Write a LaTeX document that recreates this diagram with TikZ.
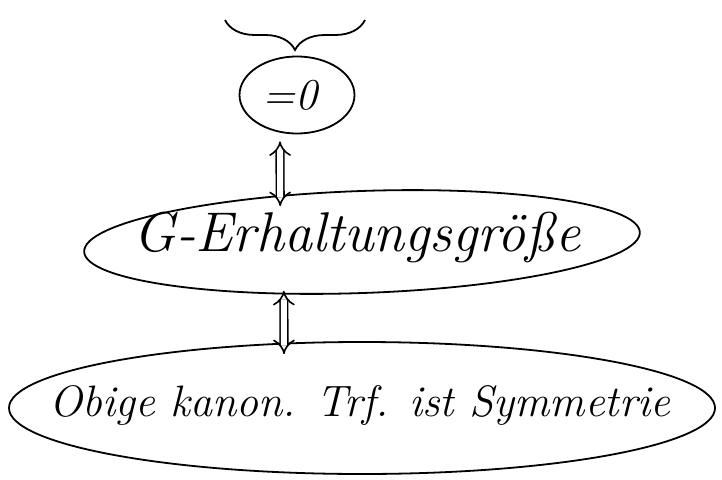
\documentclass[tikz,border=0pt]{standalone}
\usepackage{amsmath}
\usepackage{tikz}
\usetikzlibrary{decorations.pathreplacing}
\usetikzlibrary{arrows,arrows.meta,calc,shapes.geometric,shapes.misc}

\begin{document}
\begin{tikzpicture}[x=1pt,y=-1pt,line width=1.8pt,
    blob/.style={draw, ellipse, inner sep=0pt},
    hand/.style={font=\fontsize{44}{50}\selectfont\itshape},
    equiv/.style={double, double distance=6pt, line width=1.6pt, {Implies[scale=1.6]}-{Implies[scale=1.6]}}]
    \useasboundingbox (0,0) rectangle (722,479);
    \node[blob, minimum width=115, minimum height=77] (zero) at (297,95) {};
    \node[hand] (zerotxt) at (290,95) {=0};
    \node[blob, minimum width=556, minimum height=102, rotate=2] (cons) at (362,242) {};
    \node[hand, font=\fontsize{56}{62}\selectfont\itshape] (constxt) at (357,237) {G-Erhaltungsgr\"o\ss e};
    \node[blob, minimum width=706, minimum height=132] (sym) at (362,408) {};
    \node[hand] (symtxt) at (360,405) {Obige kanon. Trf. ist Symmetrie};
    \coordinate (bl) at (225,20);
    \coordinate (br) at (365,20);
    \draw[decorate,decoration={brace,mirror,amplitude=30pt}] (bl) -- (br);
    \draw[equiv] ([xshift=-17pt,yshift=-7pt]zero.south) -- ([xshift=-80pt,yshift=-16pt]cons.north);
    \draw[equiv] ([xshift=-80pt,yshift=3pt]cons.south) -- ([xshift=-78pt,yshift=-13pt]sym.north);
\end{tikzpicture}
\end{document}
